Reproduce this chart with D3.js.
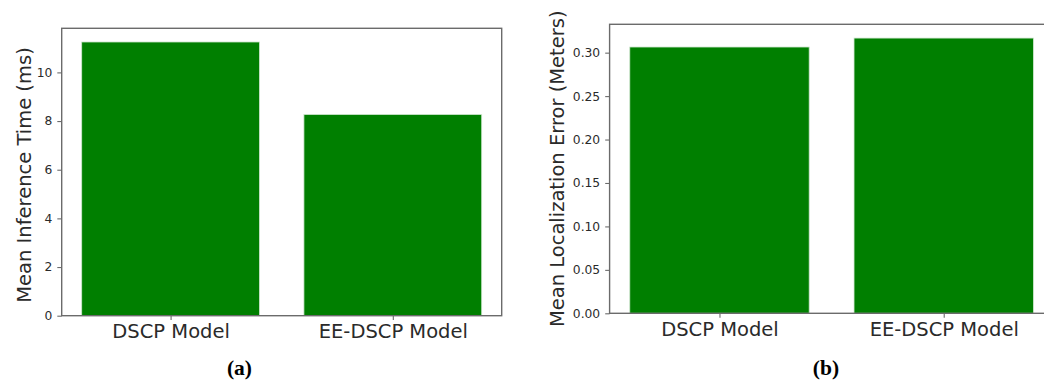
<!DOCTYPE html>
<html>
<head>
<meta charset="utf-8">
<script src="https://cdn.jsdelivr.net/npm/d3@7"></script>
<style>
  html, body { margin: 0; padding: 0; background: #fff; }
  svg { display: block; }
</style>
</head>
<body>
<svg id="fig" width="1044" height="381"></svg>
<script>
// Models compared in both panels
const models = ["DSCP Model", "EE-DSCP Model"];

// Panel (a): mean inference time per model, in ms
const inferenceTime = [11.25, 8.27];
const inferenceTicks = [0, 2, 4, 6, 8, 10];

// Panel (b): mean localization error per model, in meters
const localizationError = [0.3065, 0.3168];
const errorTicks = [0, 0.05, 0.10, 0.15, 0.20, 0.25, 0.30];

const svg = d3.select("#fig");
svg.append("rect").attr("width", 1044).attr("height", 381).attr("fill", "#fff");

const BAR = "#007f00";
const AXIS = "#6b6b6b";
const TEXT = "#2a2a2a";

function panel(opts) {
  const { values, ticks, fmt, box, yTitle, yTitleX, caption, captionX } = opts;
  const g = svg.append("g");

  // index-based x, bars of width 0.8 with 5% padding either side (matplotlib-style)
  const x = d3.scaleLinear().domain([-0.49, 1.49]).range([box.left, box.right]);
  const y = d3.scaleLinear().domain([0, d3.max(values) * 1.05]).range([box.bottom, box.top]);

  g.selectAll("rect.bar").data(values).join("rect")
    .attr("class", "bar")
    .attr("x", (d, i) => x(i - 0.4))
    .attr("width", (d, i) => x(i + 0.4) - x(i - 0.4))
    .attr("y", d => y(d))
    .attr("height", d => y(0) - y(d))
    .attr("fill", BAR)
    .attr("stroke", "#cfe6cf")
    .attr("stroke-width", 0.8);

  // frame
  g.append("rect")
    .attr("x", box.left).attr("y", box.top)
    .attr("width", box.right - box.left).attr("height", box.bottom - box.top)
    .attr("fill", "none").attr("stroke", AXIS).attr("stroke-width", 1.4);

  // y axis
  const yAxis = d3.axisLeft(y).tickValues(ticks).tickFormat(fmt).tickSizeOuter(0).tickSize(4.4).tickPadding(5);
  const ya = g.append("g").attr("transform", `translate(${box.left},0)`).call(yAxis);
  ya.select(".domain").remove();
  ya.selectAll("line").attr("stroke", AXIS).attr("stroke-width", 1.1);
  ya.selectAll("text").attr("fill", TEXT).style("font-family", "'DejaVu Sans', sans-serif").style("font-size", "12.3px");

  // x axis
  const xAxis = d3.axisBottom(x).tickValues([0, 1]).tickFormat(i => models[i]).tickSizeOuter(0).tickSize(4.4).tickPadding(4);
  const xa = g.append("g").attr("transform", `translate(0,${box.bottom})`).call(xAxis);
  xa.select(".domain").remove();
  xa.selectAll("line").attr("stroke", AXIS).attr("stroke-width", 1.1);
  xa.selectAll("text").attr("fill", TEXT).style("font-family", "'DejaVu Sans', sans-serif").style("font-size", "19.5px");

  // y title
  g.append("text")
    .attr("transform", `translate(${yTitleX},${(box.top + box.bottom) / 2 + opts.yTitleShift}) rotate(-90)`)
    .attr("text-anchor", "middle")
    .attr("fill", TEXT)
    .style("font-family", "'DejaVu Sans', sans-serif").style("font-size", "19.5px")
    .text(yTitle);

  // caption
  g.append("text")
    .attr("x", captionX).attr("y", 375)
    .attr("text-anchor", "middle")
    .attr("fill", "#000")
    .style("font-family", "'Liberation Serif', 'Times New Roman', serif")
    .style("font-weight", "bold").style("font-size", "21.5px")
    .text(caption);
}

panel({
  values: inferenceTime, ticks: inferenceTicks, fmt: d3.format("d"),
  box: { left: 61.7, right: 501.7, top: 28.3, bottom: 315.7 },
  yTitle: "Mean Inference Time (ms)", yTitleX: 31, yTitleShift: 3,
  caption: "(a)", captionX: 239.5
});

panel({
  values: localizationError, ticks: errorTicks, fmt: d3.format(".2f"),
  box: { left: 609.6, right: 1053.6, top: 24.3, bottom: 313.3 },
  yTitle: "Mean Localization Error (Meters)", yTitleX: 563.5, yTitleShift: 0,
  caption: "(b)", captionX: 826
});
</script>
</body>
</html>
